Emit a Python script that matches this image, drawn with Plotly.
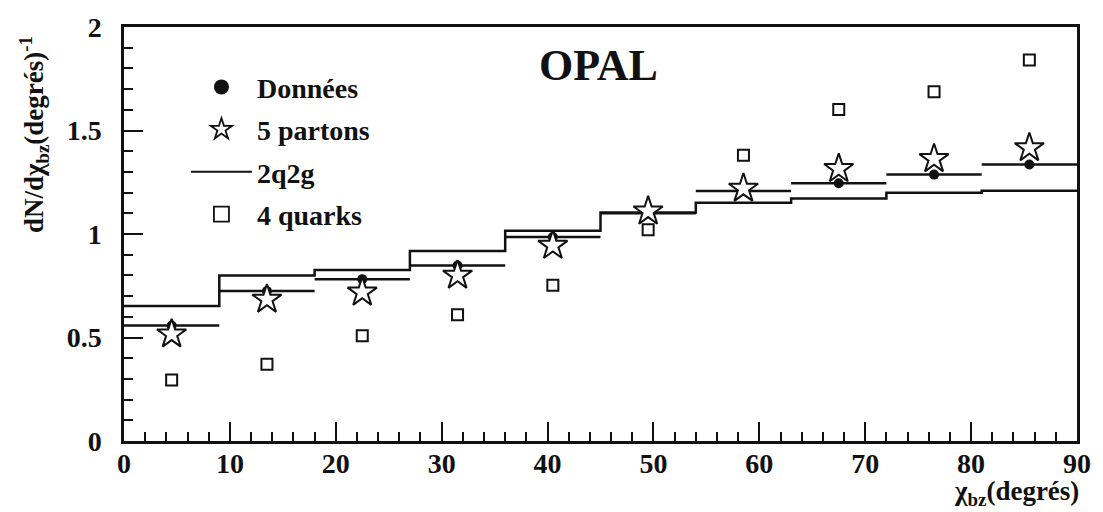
import plotly.graph_objects as go

# Bin edges (degrees) and bin centres
bin_edges = [0, 9, 18, 27, 36, 45, 54, 63, 72, 81, 90]
bin_centers = [4.5, 13.5, 22.5, 31.5, 40.5, 49.5, 58.5, 67.5, 76.5, 85.5]
bin_half_width = [4.5] * 10

# Measured distribution
donnees = [0.558, 0.725, 0.782, 0.848, 0.985, 1.100, 1.208, 1.245, 1.287, 1.336]
# 5-parton model
partons5 = [0.516, 0.684, 0.718, 0.800, 0.944, 1.110, 1.220, 1.315, 1.363, 1.416]
# 2q2g model (histogram)
q2g2 = [0.652, 0.800, 0.826, 0.918, 1.016, 1.104, 1.151, 1.172, 1.199, 1.209]
# 4-quark model
quarks4 = [0.295, 0.371, 0.508, 0.610, 0.753, 1.020, 1.380, 1.602, 1.687, 1.841]

x_ticks = [0, 10, 20, 30, 40, 50, 60, 70, 80, 90]
y_ticks = [0, 0.5, 1, 1.5, 2]
y_tick_text = ["0", "0.5", "1", "1.5", "2"]

SERIF = "Liberation Serif"
BLACK = "#111111"

fig = go.Figure()

# 2q2g as a step histogram
fig.add_trace(go.Scatter(
    x=bin_edges, y=q2g2 + [q2g2[-1]],
    mode="lines", line=dict(color=BLACK, width=2.5, shape="hv"),
    showlegend=False,
))

# Data: points with bin-width horizontal bars
fig.add_trace(go.Scatter(
    x=bin_centers, y=donnees, mode="markers",
    marker=dict(symbol="circle", size=10, color=BLACK),
    error_x=dict(type="data", array=bin_half_width, symmetric=True,
                 thickness=2.5, width=0, color=BLACK),
    showlegend=False,
))

fig.add_trace(go.Scatter(
    x=bin_centers, y=partons5, mode="markers",
    marker=dict(symbol="star", size=22, color="white",
                line=dict(color=BLACK, width=2)),
    showlegend=False,
))

fig.add_trace(go.Scatter(
    x=bin_centers, y=quarks4, mode="markers",
    marker=dict(symbol="square", size=11, color="white",
                line=dict(color=BLACK, width=2)),
    showlegend=False,
))

# Legend entries (symbols sized for the key)
legend_entries = [
    ("Données", "markers", dict(symbol="circle", size=15, color=BLACK), None),
    ("5 partons", "markers", dict(symbol="star", size=16, color="white",
                                  line=dict(color=BLACK, width=1.8)), None),
    ("2q2g", "lines", None, dict(color=BLACK, width=2)),
    ("4 quarks", "markers", dict(symbol="square", size=15, color="white",
                                 line=dict(color=BLACK, width=1.8)), None),
]
for i, (label, mode, mk, ln) in enumerate(legend_entries):
    kw = dict(x=[None], y=[None], mode=mode, name=label,
              legendgroup=f"g{i}", legendrank=i + 1, showlegend=True)
    if mk is not None:
        kw["marker"] = mk
    if ln is not None:
        kw["line"] = ln
    fig.add_trace(go.Scatter(**kw))

axis_common = dict(
    showline=True, linecolor=BLACK, linewidth=2.5, mirror=True,
    showgrid=False, zeroline=False,
    ticks="inside", tickcolor=BLACK, tickwidth=2,
    tickfont=dict(family=SERIF, size=28, color=BLACK, weight="bold"),
)

fig.update_xaxes(
    range=[0, 90], tickvals=x_ticks, ticklen=19,
    minor=dict(dtick=2, ticks="inside", ticklen=9, tickwidth=2, tickcolor=BLACK),
    ticklabelstandoff=-4,
    **axis_common,
)
fig.update_yaxes(
    range=[0, 2], tickvals=y_ticks, ticktext=y_tick_text, ticklen=19,
    minor=dict(dtick=0.1, ticks="inside", ticklen=9, tickwidth=2, tickcolor=BLACK),
    ticklabelstandoff=14,
    **axis_common,
)

fig.update_layout(
    width=1103, height=512,
    margin=dict(l=124, r=18, t=21, b=71),
    paper_bgcolor="white", plot_bgcolor="white",
    showlegend=True,
    legend=dict(
        x=0.065, y=0.915, xanchor="left", yanchor="top",
        bgcolor="rgba(0,0,0,0)", borderwidth=0,
        font=dict(family=SERIF, size=28, color=BLACK, weight="bold"),
        traceorder="grouped", tracegroupgap=3, itemwidth=61,
    ),
    annotations=[
        dict(text="OPAL", x=0.498, y=0.907, xref="paper", yref="paper",
             xanchor="center", yanchor="middle", showarrow=False,
             font=dict(family=SERIF, size=44, color=BLACK, weight="bold")),
        dict(text="dN/dχ<sub>bz</sub>(degrés)<sup>-1</sup>", textangle=-90,
             x=-0.095, y=0.74, xref="paper", yref="paper", showarrow=False,
             xanchor="center", yanchor="middle",
             font=dict(family=SERIF, size=27, color=BLACK, weight="bold")),
        dict(text="χ<sub>bz</sub>(degrés)", x=1.0, y=-0.079, xref="paper", yref="paper",
             xanchor="right", yanchor="top", showarrow=False, xshift=4,
             font=dict(family=SERIF, size=27, color=BLACK, weight="bold")),
    ],
)

fig.write_html("out.html")
